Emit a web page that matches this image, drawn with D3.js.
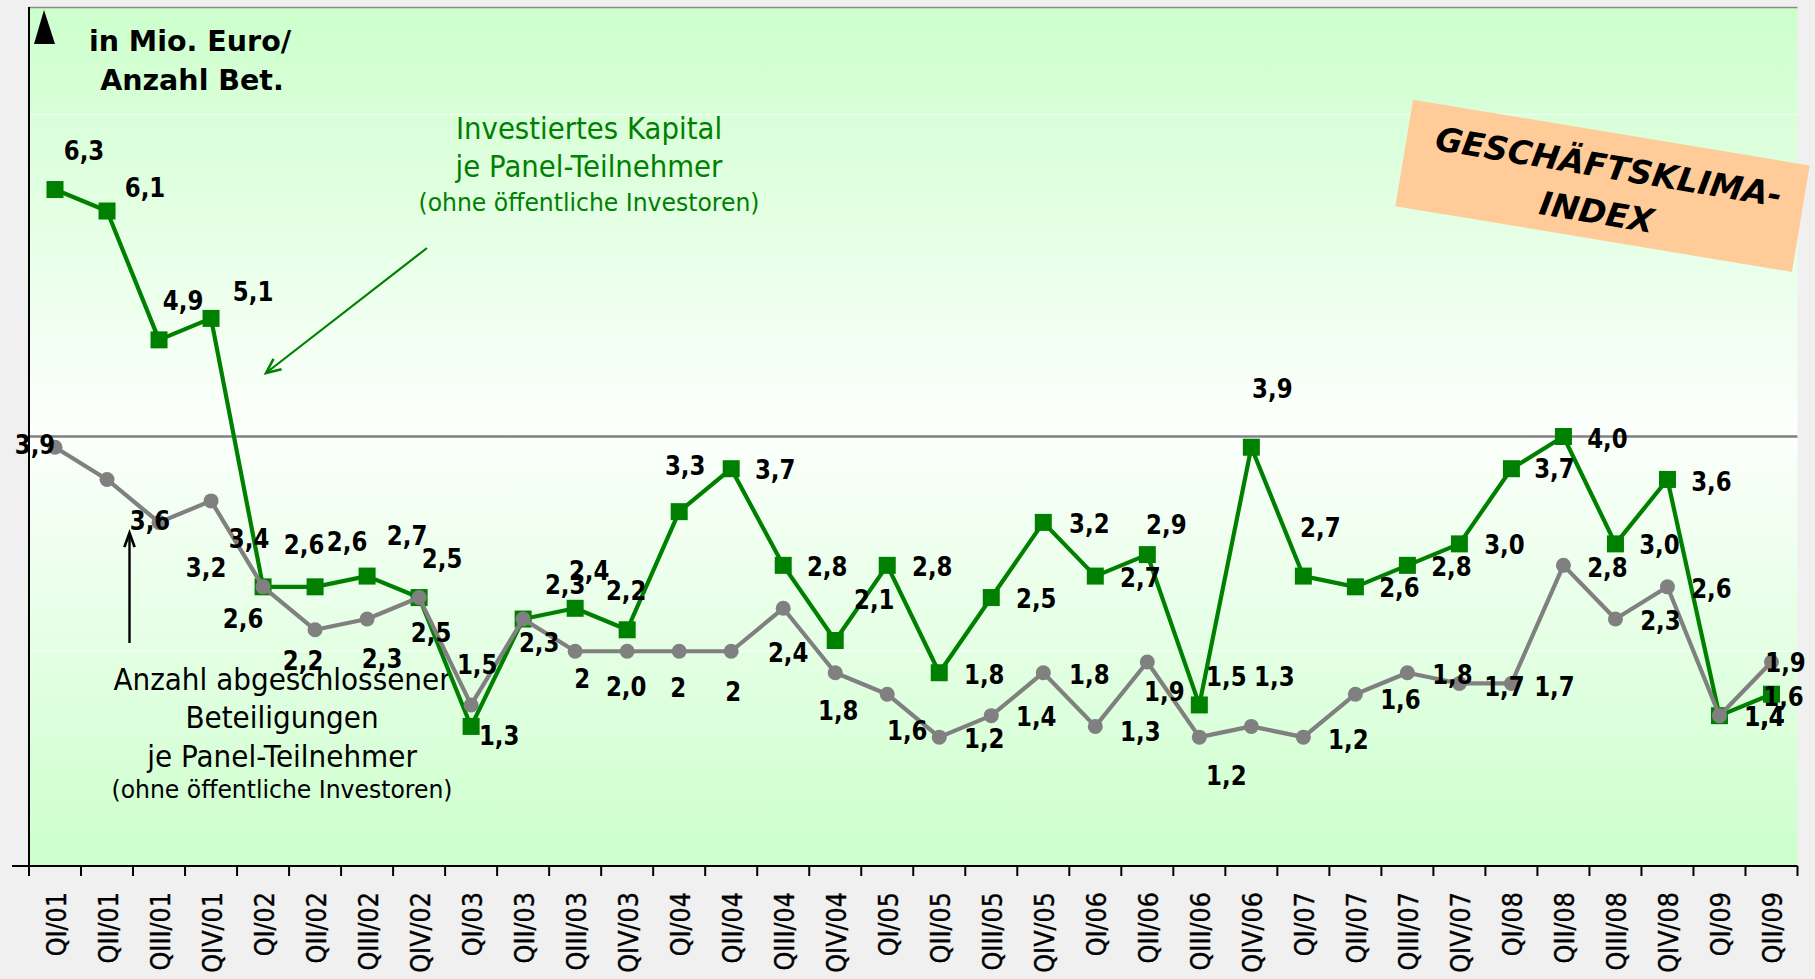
<!DOCTYPE html>
<html><head><meta charset="utf-8">
<script src="https://cdn.jsdelivr.net/npm/d3@7"></script>
<style>html,body{margin:0;padding:0;background:#f0f0f0;overflow:hidden;} svg{display:block;}</style>
</head><body>
<svg id="chart" width="1815" height="979"></svg>
<script>
// ---------- data ----------
const categories = ["QI/01","QII/01","QIII/01","QIV/01","QI/02","QII/02","QIII/02","QIV/02",
  "QI/03","QII/03","QIII/03","QIV/03","QI/04","QII/04","QIII/04","QIV/04",
  "QI/05","QII/05","QIII/05","QIV/05","QI/06","QII/06","QIII/06","QIV/06",
  "QI/07","QII/07","QIII/07","QIV/07","QI/08","QII/08","QIII/08","QIV/08","QI/09","QII/09"];
// Investiertes Kapital je Panel-Teilnehmer (Mio. Euro)
const kapital = [6.3,6.1,4.9,5.1,2.6,2.6,2.7,2.5,1.3,2.3,2.4,2.2,3.3,3.7,2.8,2.1,
  2.8,1.8,2.5,3.2,2.7,2.9,1.5,3.9,2.7,2.6,2.8,3.0,3.7,4.0,3.0,3.6,1.4,1.6];
// Anzahl abgeschlossener Beteiligungen je Panel-Teilnehmer
const beteiligungen = [3.9,3.6,3.2,3.4,2.6,2.2,2.3,2.5,1.5,2.3,2.0,2.0,2.0,2.0,2.4,1.8,
  1.6,1.2,1.4,1.8,1.3,1.9,1.2,1.3,1.2,1.6,1.8,1.7,1.7,2.8,2.3,2.6,1.4,1.9];
// label texts as printed in the chart
const kapitalLabels = kapital.map(v => v.toFixed(1).replace(".", ","));
const beteiligungenLabels = ["3,9","3,6","3,2","3,4","2,6","2,2","2,3","2,5","1,5","2,3","2","2,0","2","2",
  "2,4","1,8","1,6","1,2","1,4","1,8","1,3","1,9","1,2","1,3","1,2","1,6","1,8","1,7","1,7","2,8","2,3","2,6","1,4","1,9"];
const yDomain = [0, 8];
const referenceValue = 4;
const faintGridValues = [2, 7];

// ---------- layout (label offsets relative to their points, px) ----------
const kapitalLabelOffsets = [[29,-39],[38,-23],[24,-39],[42,-27],[41,-42],[32,-45],[40,-40],[23,-39],
  [28,9],[42,-34],[14,-38],[-1,-39],[6,-46],[44,1],[44,1],[39,-41],[45,1],[45,2],[45,1],[46,1],
  [45,2],[19,-30],[27,-28],[21,-59],[17,-48],[44,1],[44,1],[45,1],[43,0],[44,2],[44,1],[44,2],[45,1],[12,2]];
const beteiligungenLabelOffsets = [[-20,-3],[43,41],[47,45],[38,38],[-20,32],[-12,31],[15,40],[12,35],
  [6,-40],[16,24],[7,27],[-1,35],[-1,36],[2,40],[5,44],[3,38],[20,36],[45,1],[45,1],[46,2],
  [45,5],[17,30],[27,38],[23,-50],[45,2],[45,5],[45,2],[45,3],[43,3],[44,2],[45,2],[44,2],[45,1],[14,1]];

const W = 1815, H = 979;
const plot = {left: 29, top: 7, right: 1797.5, bottom: 866};

const svg = d3.select("#chart");
const FONT = "'DejaVu Sans', Verdana, sans-serif";

const x = d3.scaleBand().domain(categories).range([plot.left, plot.right]).padding(0);
const y = d3.scaleLinear().domain(yDomain).range([plot.bottom, plot.top]);
const cx = c => x(c) + x.bandwidth() / 2;

// background
svg.append("rect").attr("width", W).attr("height", H).attr("fill", "#f0f0f0");
const defs = svg.append("defs");
const grad = defs.append("linearGradient").attr("id", "bg").attr("gradientUnits", "userSpaceOnUse")
  .attr("x1", 0).attr("x2", 0).attr("y1", plot.top).attr("y2", plot.bottom);
grad.append("stop").attr("offset", "0%").attr("stop-color", "#ccffcc");
grad.append("stop").attr("offset", "49%").attr("stop-color", "#fcfffc");
grad.append("stop").attr("offset", "100%").attr("stop-color", "#ccffcc");
svg.append("rect").attr("x", plot.left).attr("y", plot.top)
  .attr("width", plot.right - plot.left).attr("height", plot.bottom - plot.top).attr("fill", "url(#bg)");

// faint grid
svg.selectAll("line.faint").data(faintGridValues).join("line").attr("class", "faint")
  .attr("x1", plot.left).attr("x2", plot.right).attr("y1", d => y(d)).attr("y2", d => y(d))
  .attr("stroke", "#ffffff").attr("stroke-opacity", 0.55).attr("stroke-width", 1.5);

// top border
svg.append("line").attr("x1", plot.left).attr("x2", plot.right).attr("y1", plot.top + 0.5).attr("y2", plot.top + 0.5)
  .attr("stroke", "#8a8a8a").attr("stroke-width", 1.5);

// reference line at 4
svg.append("line").attr("x1", plot.left).attr("x2", plot.right)
  .attr("y1", y(referenceValue)).attr("y2", y(referenceValue))
  .attr("stroke", "#808080").attr("stroke-width", 2.5);

// x axis
const xAxisG = svg.append("g").attr("transform", `translate(0,${plot.bottom})`);
xAxisG.append("line").attr("x1", 12).attr("x2", plot.right).attr("y1", 0).attr("y2", 0)
  .attr("stroke", "#000").attr("stroke-width", 2.2);
const boundaries = categories.map(c => x(c)).concat([plot.right]);
xAxisG.selectAll("line.tick").data(boundaries).join("line").attr("class", "tick")
  .attr("x1", d => d).attr("x2", d => d).attr("y1", 0).attr("y2", 10)
  .attr("stroke", "#000").attr("stroke-width", 2);
svg.append("g").selectAll("text").data(categories).join("text")
  .attr("transform", d => `translate(${cx(d) + 1.5},892) rotate(-90) scale(0.92,1)`)
  .attr("text-anchor", "end").attr("dy", "0.36em")
  .attr("font-family", FONT).attr("font-size", 26).attr("fill", "#000")
  .attr("stroke", "#000").attr("stroke-width", 0.4)
  .text(d => d);

// y axis
svg.append("line").attr("x1", plot.left).attr("x2", plot.left).attr("y1", plot.top).attr("y2", plot.bottom + 1)
  .attr("stroke", "#000").attr("stroke-width", 2);
svg.append("path").attr("d", "M44,10 L55,44 L34,44 Z").attr("fill", "#000");

// y-axis unit title
const unit = svg.append("g").attr("font-family", FONT).attr("font-weight", "bold")
  .attr("font-size", 28.5).attr("text-anchor", "middle").attr("fill", "#000");
unit.append("text").attr("x", 190).attr("y", 51).text("in Mio. Euro/");
unit.append("text").attr("x", 192).attr("y", 89.5).text("Anzahl Bet.");

// annotation: green
const green = "#008000";
const gAnn = svg.append("g").attr("font-family", FONT).attr("text-anchor", "middle").attr("fill", green);
[["Investiertes Kapital", 139, 30, 0.92], ["je Panel-Teilnehmer", 177, 30, 0.92],
 ["(ohne öffentliche Investoren)", 211, 24.5, 0.96]].forEach(([t, yy, fs, sx]) => {
  gAnn.append("text").attr("transform", `translate(589,${yy}) scale(${sx},1)`).attr("font-size", fs).text(t);
});
// annotation: black
const bAnn = svg.append("g").attr("font-family", FONT).attr("text-anchor", "middle").attr("fill", "#000");
[["Anzahl abgeschlossener", 690, 30, 0.93], ["Beteiligungen", 728, 30, 0.93],
 ["je Panel-Teilnehmer", 767, 30, 0.93], ["(ohne öffentliche Investoren)", 798, 24.5, 0.96]].forEach(([t, yy, fs, sx]) => {
  bAnn.append("text").attr("transform", `translate(282,${yy}) scale(${sx},1)`).attr("font-size", fs).text(t);
});

// arrows
function arrow(x1, y1, x2, y2, color, headLen, headAng, w) {
  const a = Math.atan2(y2 - y1, x2 - x1);
  svg.append("line").attr("x1", x1).attr("y1", y1).attr("x2", x2).attr("y2", y2)
    .attr("stroke", color).attr("stroke-width", w);
  const p1 = [x2 - headLen * Math.cos(a - headAng), y2 - headLen * Math.sin(a - headAng)];
  const p2 = [x2 - headLen * Math.cos(a + headAng), y2 - headLen * Math.sin(a + headAng)];
  svg.append("path").attr("d", `M${p1[0]},${p1[1]} L${x2},${y2} L${p2[0]},${p2[1]}`)
    .attr("fill", "none").attr("stroke", color).attr("stroke-width", w + 0.3);
}
arrow(427, 248, 266, 373, green, 16, 0.42, 2.2);
arrow(129.5, 643, 129.5, 533, "#000", 15, 0.35, 2.4);

// Geschäftsklima box
const box = svg.append("g").attr("transform", "translate(1602.5,185.8) rotate(9.41)");
box.append("rect").attr("x", -201).attr("y", -54).attr("width", 402).attr("height", 108).attr("fill", "#ffcc99");
const boxText = box.append("g").attr("font-family", FONT).attr("font-weight", "bold").attr("font-style", "italic")
  .attr("font-size", 33).attr("text-anchor", "middle").attr("fill", "#000");
boxText.append("text").attr("x", 3).attr("y", -20).attr("dy", "0.36em").text("GESCHÄFTSKLIMA-");
boxText.append("text").attr("x", -1.5).attr("y", 26.5).attr("dy", "0.36em").text("INDEX");

// series
const line = d3.line().x((d, i) => cx(categories[i])).y(d => y(d));
svg.append("path").datum(kapital).attr("d", line).attr("fill", "none")
  .attr("stroke", green).attr("stroke-width", 4.2).attr("stroke-linejoin", "round");
const sq = 17;
svg.append("g").selectAll("rect").data(kapital).join("rect")
  .attr("x", (d, i) => cx(categories[i]) - sq / 2).attr("y", d => y(d) - sq / 2)
  .attr("width", sq).attr("height", sq).attr("fill", green);

svg.append("path").datum(beteiligungen).attr("d", line).attr("fill", "none")
  .attr("stroke", "#808080").attr("stroke-width", 4.2).attr("stroke-linejoin", "round");
svg.append("g").selectAll("circle").data(beteiligungen).join("circle")
  .attr("cx", (d, i) => cx(categories[i])).attr("cy", d => y(d)).attr("r", 7.5).attr("fill", "#808080");

// data labels
function labels(values, texts, offsets) {
  svg.append("g").attr("font-family", FONT).attr("font-weight", "bold").attr("font-size", 26)
    .attr("text-anchor", "middle").attr("fill", "#000")
    .selectAll("text").data(values).join("text")
    .attr("transform", (d, i) => `translate(${cx(categories[i]) + offsets[i][0]},${y(d) + offsets[i][1]}) scale(0.88,1)`)
    .attr("dy", "0.36em")
    .text((d, i) => texts[i]);
}
labels(kapital, kapitalLabels, kapitalLabelOffsets);
labels(beteiligungen, beteiligungenLabels, beteiligungenLabelOffsets);
</script>
</body></html>
